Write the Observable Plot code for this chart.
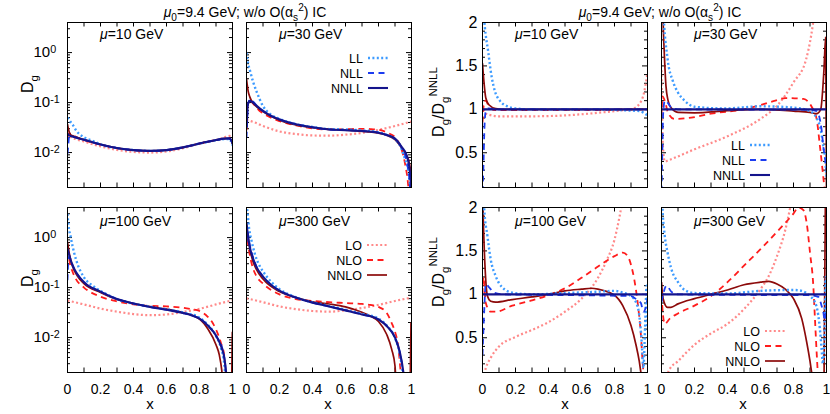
<!DOCTYPE html>
<html><head><meta charset="utf-8">
<script src="https://cdn.jsdelivr.net/npm/d3@7"></script>
<script src="https://cdn.jsdelivr.net/npm/@observablehq/plot@0.6"></script>
<style>
body{margin:0;background:#fff;}
#root{position:relative;width:830px;height:414px;overflow:hidden;background:#fff}
#root svg{position:absolute;}
</style></head><body><div id="root"></div>
<script>
const FONT = '"Liberation Sans", Arial, Helvetica, sans-serif';

// ---------- axis ticks / labels ----------
const X_LABEL_TICKS = [0, 0.2, 0.4, 0.6, 0.8, 1];
const X_LABELS = ["0", "0.2", "0.4", "0.6", "0.8", "1"];
const X_MINOR = [0.1, 0.2, 0.3, 0.4, 0.5, 0.6, 0.7, 0.8, 0.9];
const LOG_MAJOR = [1, 0.1, 0.01];
const LOG_LABELS = ["10^0", "10^-1", "10^-2"];
const LOG_MINOR = [0.002,0.003,0.004,0.005,0.006,0.007,0.008,0.009,0.02,0.03,0.04,0.05,0.06,0.07,0.08,0.09,0.2,0.3,0.4,0.5,0.6,0.7,0.8,0.9,2,3,4];
const RATIO_MAJOR = [0.5, 1, 1.5, 2];
const RATIO_LABELS = ["0.5", "1", "1.5", "2"];
const RATIO_MINOR = [0.2,0.3,0.4,0.6,0.7,0.8,0.9,1.1,1.2,1.3,1.4,1.6,1.7,1.8,1.9];
const MU = ["10", "30", "100", "300"];

// ---------- D_g, mu = 10 GeV ----------
const dg10_LO   = [[0,0.025],[0.02,0.0205],[0.05,0.0186],[0.1,0.0166],[0.2,0.0133],[0.3,0.0113],[0.4,0.0103],[0.5,0.01],[0.6,0.0105],[0.7,0.0122],[0.8,0.0152],[0.9,0.0178],[0.95,0.02],[0.98,0.0215],[1,0.021]];
const dg10_NLO  = [[0,0.02],[0.01,0.024],[0.02,0.0235],[0.04,0.0215],[0.08,0.0187],[0.1,0.0178],[0.2,0.0144],[0.3,0.0122],[0.4,0.0111],[0.5,0.0107],[0.6,0.0111],[0.7,0.0126],[0.8,0.0151],[0.9,0.0178],[0.95,0.019],[0.98,0.0192],[1,0.0152]];
const dg10_NNLO = [[0,0.037],[0.005,0.03],[0.01,0.026],[0.02,0.0225],[0.04,0.0212],[0.08,0.019],[0.1,0.0181],[0.2,0.0146],[0.3,0.0123],[0.4,0.0112],[0.5,0.0108],[0.6,0.0112],[0.7,0.0127],[0.8,0.0152],[0.9,0.0178],[0.95,0.019],[0.98,0.0192],[0.995,0.017],[1,0.015]];
const dg10_LL   = [[0,0.05],[0.014,0.043],[0.034,0.035],[0.055,0.027],[0.075,0.023],[0.105,0.0198],[0.156,0.017],[0.2,0.0146],[0.3,0.0123],[0.4,0.0112],[0.5,0.0108],[0.6,0.0112],[0.7,0.0127],[0.8,0.0151],[0.9,0.0176],[0.95,0.0186],[0.98,0.0187],[1,0.014]];
const dg10_NLL  = [[0,0.0095],[0.004,0.013],[0.01,0.021],[0.02,0.0215],[0.05,0.0201],[0.1,0.018],[0.2,0.0145],[0.3,0.0123],[0.4,0.0112],[0.5,0.0108],[0.6,0.0112],[0.7,0.0127],[0.8,0.0152],[0.9,0.0178],[0.95,0.019],[0.98,0.0191],[0.995,0.0168],[1,0.0148]];
const dg10_NNLL = [[0,0.024],[0.01,0.022],[0.03,0.021],[0.05,0.02],[0.1,0.018],[0.2,0.0145],[0.3,0.0123],[0.4,0.0112],[0.5,0.0108],[0.6,0.0112],[0.7,0.0127],[0.8,0.0152],[0.9,0.0178],[0.95,0.019],[0.98,0.0192],[0.995,0.017],[1,0.015]];

// ---------- D_g, mu = 30 GeV ----------
const dg30_LO   = [[0,0.045],[0.05,0.04],[0.1,0.034],[0.2,0.0265],[0.3,0.0235],[0.4,0.022],[0.5,0.0218],[0.6,0.0228],[0.7,0.0248],[0.8,0.0285],[0.9,0.034],[1,0.042]];
const dg30_NLO  = [[0,0.028],[0.005,0.08],[0.01,0.1],[0.02,0.11],[0.04,0.095],[0.08,0.068],[0.1,0.061],[0.18,0.045],[0.3,0.035],[0.5,0.029],[0.7,0.0298],[0.75,0.0295],[0.8,0.0285],[0.86,0.0245],[0.91,0.0185],[0.94,0.0115],[0.96,0.0062],[0.98,0.0022],[0.99,0.0008]];
const dg30_NNLO = [[0,0.3],[0.005,0.22],[0.01,0.17],[0.02,0.13],[0.03,0.11],[0.05,0.09],[0.1,0.066],[0.2,0.0445],[0.4,0.0315],[0.6,0.028],[0.8,0.0245],[0.9,0.0182],[0.94,0.0124],[0.97,0.0088],[0.985,0.0065],[0.995,0.004],[1,0.001]];
const dg30_LL   = [[0,1.0],[0.005,0.75],[0.01,0.6],[0.02,0.45],[0.04,0.26],[0.06,0.17],[0.1,0.085],[0.14,0.06],[0.2,0.047],[0.3,0.037],[0.4,0.0325],[0.5,0.0295],[0.6,0.029],[0.7,0.0278],[0.8,0.0255],[0.85,0.0225],[0.9,0.0186],[0.94,0.0118],[0.96,0.0075],[0.98,0.0045],[0.99,0.0025],[0.995,0.0015]];
const dg30_NLL  = [[0,0.02],[0.004,0.04],[0.008,0.085],[0.02,0.115],[0.04,0.105],[0.06,0.088],[0.1,0.068],[0.15,0.054],[0.2,0.046],[0.3,0.037],[0.4,0.032],[0.5,0.029],[0.6,0.028],[0.7,0.027],[0.8,0.025],[0.85,0.0224],[0.9,0.0188],[0.94,0.0125],[0.97,0.0068],[0.98,0.0045],[0.99,0.0022],[0.995,0.001]];
const dg30_NNLL = [[0,0.031],[0.004,0.06],[0.008,0.09],[0.02,0.108],[0.04,0.1],[0.06,0.087],[0.1,0.068],[0.15,0.054],[0.2,0.046],[0.3,0.037],[0.4,0.032],[0.5,0.029],[0.6,0.028],[0.7,0.027],[0.8,0.025],[0.85,0.0225],[0.9,0.019],[0.94,0.013],[0.97,0.0089],[0.99,0.0042],[0.997,0.0018],[1,0.0005]];

// ---------- D_g, mu = 100 GeV ----------
const dg100_LO   = [[0,0.055],[0.1,0.046],[0.2,0.038],[0.3,0.033],[0.4,0.0295],[0.5,0.028],[0.6,0.029],[0.7,0.0325],[0.8,0.0375],[0.9,0.046],[1,0.056]];
const dg100_NLO  = [[0,0.6],[0.005,0.48],[0.015,0.3],[0.03,0.21],[0.05,0.15],[0.1,0.1],[0.2,0.066],[0.3,0.053],[0.4,0.046],[0.5,0.043],[0.6,0.042],[0.7,0.0395],[0.75,0.037],[0.8,0.034],[0.85,0.026],[0.88,0.0195],[0.9,0.0145],[0.93,0.0078],[0.95,0.0043],[0.965,0.001]];
const dg100_NNLO = [[0,0.82],[0.01,0.5],[0.03,0.27],[0.06,0.17],[0.1,0.12],[0.2,0.08],[0.3,0.058],[0.4,0.048],[0.5,0.0415],[0.6,0.037],[0.7,0.0315],[0.8,0.0235],[0.85,0.015],[0.9,0.0072],[0.92,0.0045],[0.935,0.0022],[0.945,0.001],[0.993,0.001],[0.999,0.013]];
const dg100_LL   = [[0,3.0],[0.005,1.9],[0.02,1.0],[0.04,0.5],[0.06,0.3],[0.1,0.16],[0.15,0.11],[0.2,0.086],[0.3,0.059],[0.5,0.0415],[0.7,0.032],[0.8,0.025],[0.85,0.018],[0.9,0.0108],[0.93,0.0062],[0.95,0.003],[0.96,0.0012]];
const dg100_NLL  = [[0,0.14],[0.004,0.3],[0.01,0.42],[0.02,0.36],[0.03,0.29],[0.06,0.185],[0.1,0.128],[0.2,0.083],[0.3,0.059],[0.4,0.048],[0.5,0.041],[0.6,0.036],[0.7,0.031],[0.75,0.028],[0.8,0.024],[0.85,0.0175],[0.9,0.0108],[0.94,0.0058],[0.96,0.0019],[0.965,0.001]];
const dg100_NNLL = [[0,0.6],[0.01,0.45],[0.03,0.28],[0.06,0.185],[0.1,0.128],[0.2,0.083],[0.3,0.059],[0.4,0.048],[0.5,0.041],[0.6,0.036],[0.7,0.031],[0.75,0.028],[0.8,0.024],[0.85,0.0175],[0.9,0.011],[0.93,0.0068],[0.95,0.004],[0.96,0.0022],[0.97,0.0008]];

// ---------- D_g, mu = 300 GeV ----------
const dg300_LO   = [[0,0.061],[0.1,0.051],[0.2,0.042],[0.3,0.037],[0.4,0.034],[0.5,0.033],[0.6,0.035],[0.7,0.039],[0.8,0.045],[0.9,0.054],[1,0.063]];
const dg300_NLO  = [[0,1.5],[0.005,1.0],[0.02,0.45],[0.04,0.24],[0.06,0.17],[0.1,0.12],[0.2,0.073],[0.3,0.059],[0.4,0.054],[0.5,0.051],[0.6,0.049],[0.7,0.047],[0.75,0.045],[0.8,0.041],[0.85,0.031],[0.88,0.0195],[0.9,0.013],[0.92,0.0065],[0.935,0.002],[0.945,0.001]];
const dg300_NNLO = [[0,1.8],[0.005,1.3],[0.02,0.6],[0.04,0.33],[0.06,0.23],[0.1,0.148],[0.2,0.083],[0.3,0.063],[0.4,0.052],[0.5,0.047],[0.6,0.041],[0.7,0.032],[0.75,0.027],[0.8,0.021],[0.85,0.0115],[0.88,0.0058],[0.9,0.0027],[0.91,0.001],[0.99,0.001],[0.997,0.02]];
const dg300_LL   = [[0,4.5],[0.005,3.5],[0.015,1.6],[0.03,0.88],[0.05,0.48],[0.08,0.27],[0.1,0.21],[0.15,0.13],[0.2,0.093],[0.3,0.064],[0.5,0.043],[0.7,0.03],[0.8,0.024],[0.85,0.0175],[0.9,0.0098],[0.93,0.0045],[0.95,0.0016],[0.96,0.0008]];
const dg300_NLL  = [[0,0.8],[0.005,1.3],[0.02,0.7],[0.04,0.4],[0.06,0.265],[0.1,0.166],[0.15,0.113],[0.2,0.087],[0.3,0.063],[0.4,0.05],[0.5,0.042],[0.6,0.035],[0.7,0.029],[0.8,0.023],[0.85,0.017],[0.9,0.0099],[0.93,0.0049],[0.95,0.002],[0.96,0.001]];
const dg300_NNLL = [[0,2.0],[0.005,1.4],[0.02,0.65],[0.04,0.38],[0.06,0.26],[0.1,0.166],[0.15,0.113],[0.2,0.087],[0.3,0.063],[0.4,0.05],[0.5,0.042],[0.6,0.035],[0.7,0.029],[0.8,0.023],[0.85,0.017],[0.9,0.01],[0.93,0.005],[0.95,0.0021],[0.96,0.001]];

// ---------- D_g / D_g^NNLL, mu = 10 GeV ----------
const rt10_LO   = [[0,1.05],[0.02,0.95],[0.1,0.92],[0.3,0.92],[0.5,0.93],[0.7,0.96],[0.85,0.99],[0.9,1.0],[0.95,1.06],[0.98,1.2],[1,1.42]];
const rt10_NLO  = [[0,0.85],[0.01,1.08],[0.02,1.1],[0.04,1.03],[0.08,0.99],[0.3,0.99],[0.7,0.99],[0.9,1.0],[1,1.0]];
const rt10_NNLO = [[0,1.53],[0.01,1.29],[0.02,1.13],[0.04,1.05],[0.08,1.01],[0.15,1.0],[1,1.0]];
const rt10_LL   = [[0,2.3],[0.014,1.95],[0.034,1.67],[0.055,1.38],[0.075,1.21],[0.105,1.1],[0.156,1.03],[0.2,1.01],[0.3,1.0],[0.5,1.0],[0.7,1.0],[0.85,0.99],[0.95,0.98],[1,0.93]];
const rt10_NLL  = [[0,0.05],[0.005,0.3],[0.012,0.8],[0.02,0.98],[0.035,1.01],[0.1,1.0],[1,1.0]];
const rt10_NNLL = [[0,1],[1,1]];

// ---------- D_g / D_g^NNLL, mu = 30 GeV ----------
const rt30_LO   = [[0,1.45],[0.008,0.6],[0.02,0.4],[0.05,0.42],[0.2,0.54],[0.4,0.69],[0.6,0.89],[0.7,1.04],[0.8,1.31],[0.877,1.58],[0.907,1.85],[0.93,2.15]];
const rt30_NLO  = [[0,0.9],[0.006,1.15],[0.02,1.1],[0.04,0.96],[0.078,0.89],[0.18,0.905],[0.3,0.95],[0.5,1.0],[0.69,1.1],[0.75,1.13],[0.86,1.12],[0.91,1.03],[0.94,0.89],[0.96,0.58],[0.98,0.23],[0.99,0.05]];
const rt30_NNLO = [[0,3],[0.01,2.0],[0.018,1.6],[0.027,1.27],[0.04,1.1],[0.057,1.02],[0.1,0.965],[0.2,0.96],[0.4,0.985],[0.6,1.0],[0.8,0.98],[0.9,0.965],[0.94,0.95],[0.965,1.0],[0.985,1.47],[0.995,1.83],[1,0.05]];
const rt30_LL   = [[0,2.8],[0.01,2.2],[0.037,1.58],[0.068,1.33],[0.098,1.2],[0.14,1.1],[0.2,1.03],[0.385,1.01],[0.6,1.035],[0.8,1.02],[0.9,0.98],[0.96,0.81],[0.98,0.58],[0.994,0.39],[1,0.2]];
const rt30_NLL  = [[0,0.05],[0.005,0.5],[0.01,0.95],[0.02,1.1],[0.035,1.08],[0.06,1.02],[0.1,1.0],[0.9,0.995],[0.94,0.98],[0.97,0.77],[0.98,0.58],[0.99,0.45],[1,0.3]];
const rt30_NNLL = [[0,1],[1,1]];

// ---------- D_g / D_g^NNLL, mu = 100 GeV ----------
const rt100_LO   = [[0.01,0.08],[0.02,0.15],[0.05,0.27],[0.1,0.4],[0.2,0.51],[0.3,0.59],[0.4,0.68],[0.5,0.8],[0.6,0.95],[0.7,1.19],[0.75,1.38],[0.8,1.63],[0.83,1.89],[0.85,2.1]];
const rt100_NLO  = [[0,1.0],[0.005,1.2],[0.02,0.9],[0.05,0.8],[0.08,0.8],[0.18,0.87],[0.3,0.93],[0.4,0.99],[0.5,1.07],[0.6,1.19],[0.7,1.32],[0.8,1.44],[0.85,1.48],[0.88,1.44],[0.9,1.34],[0.92,1.17],[0.94,0.91],[0.96,0.53],[0.97,0.23],[0.98,0.0]];
const rt100_NNLO = [[0,2.2],[0.004,1.91],[0.016,1.29],[0.03,0.98],[0.05,0.92],[0.08,0.91],[0.18,0.94],[0.3,0.97],[0.4,1.0],[0.5,1.04],[0.6,1.06],[0.66,1.07],[0.7,1.06],[0.8,0.99],[0.85,0.87],[0.9,0.64],[0.93,0.42],[0.95,0.23],[0.96,0.1],[0.97,0.0]];
const rt100_LL   = [[0,2.6],[0.01,2.0],[0.03,1.67],[0.05,1.4],[0.08,1.21],[0.12,1.08],[0.18,1.02],[0.3,1.0],[0.5,1.015],[0.7,1.03],[0.8,1.04],[0.85,1.02],[0.9,0.98],[0.93,0.91],[0.95,0.76],[0.965,0.45],[0.975,0.15],[0.985,0.6],[0.995,1.1],[1,0.6]];
const rt100_NLL  = [[0,0.3],[0.008,0.7],[0.02,1.12],[0.04,1.08],[0.07,1.02],[0.12,1.0],[0.3,0.995],[0.9,0.98],[0.94,0.93],[0.96,0.9],[0.975,0.8],[0.99,0.85],[1,0.95]];
const rt100_NNLL = [[0,1],[1,1]];

// ---------- D_g / D_g^NNLL, mu = 300 GeV ----------
const rt300_LO   = [[0.02,0.0],[0.047,0.13],[0.1,0.23],[0.2,0.42],[0.3,0.55],[0.4,0.66],[0.5,0.83],[0.6,1.06],[0.65,1.21],[0.7,1.44],[0.75,1.74],[0.78,2.0],[0.8,2.2]];
const rt300_NLO  = [[0,1.0],[0.005,0.85],[0.02,0.66],[0.05,0.72],[0.1,0.78],[0.2,0.87],[0.3,0.98],[0.4,1.14],[0.5,1.33],[0.6,1.52],[0.7,1.72],[0.8,1.93],[0.83,2.0],[0.86,1.97],[0.88,1.82],[0.9,1.48],[0.92,1.1],[0.93,0.72],[0.94,0.34],[0.95,0.0]];
const rt300_NNLO = [[0,1.14],[0.006,1.0],[0.016,0.91],[0.037,0.85],[0.057,0.85],[0.1,0.89],[0.2,0.95],[0.3,1.0],[0.4,1.05],[0.5,1.11],[0.6,1.14],[0.65,1.15],[0.7,1.12],[0.75,1.06],[0.8,0.95],[0.85,0.72],[0.88,0.45],[0.9,0.23],[0.91,0.1],[0.92,0.0],[0.985,0.0],[0.995,2.5]];
const rt300_LL   = [[0,3.0],[0.006,2.0],[0.016,1.74],[0.037,1.48],[0.057,1.31],[0.1,1.14],[0.14,1.05],[0.2,1.015],[0.4,1.01],[0.6,1.04],[0.8,1.05],[0.85,1.04],[0.9,0.98],[0.93,0.91],[0.95,0.76],[0.96,0.6],[0.97,0.38],[0.978,0.2],[0.987,0.5],[0.995,1.2],[1,0.8]];
const rt300_NLL  = [[0,0.91],[0.01,1.0],[0.03,1.1],[0.06,1.03],[0.1,1.0],[0.3,0.995],[0.9,0.99],[0.95,0.97],[0.97,0.87],[0.98,0.8],[0.99,0.7],[1,0.9]];
const rt300_NNLL = [[0,1],[1,1]];

// ---------- styles ----------
const ORDER = ["LO", "NLO", "NNLO", "LL", "NLL", "NNLL"];
const STYLE = {
  LO:   {stroke: "#ff8a8a", dash: "2,2.4", width: 2.2},
  NLO:  {stroke: "#ff1c1c", dash: "6,4.5", width: 1.8},
  NNLO: {stroke: "#8c0a0a", dash: null,    width: 1.7},
  LL:   {stroke: "#3d9bff", dash: "2,2.4", width: 2.4},
  NLL:  {stroke: "#1c3cf0", dash: "6,4.5", width: 1.8},
  NNLL: {stroke: "#14148c", dash: null,    width: 2.1}
};

const PANELS = [
  {left: 67,  top: 22,  log: true,  mu: 0, ylab: true,  xlab: false, s: {LO:dg10_LO,NLO:dg10_NLO,NNLO:dg10_NNLO,LL:dg10_LL,NLL:dg10_NLL,NNLL:dg10_NNLL}},
  {left: 246, top: 22,  log: true,  mu: 1, ylab: false, xlab: false, s: {LO:dg30_LO,NLO:dg30_NLO,NNLO:dg30_NNLO,LL:dg30_LL,NLL:dg30_NLL,NNLL:dg30_NNLL}},
  {left: 67,  top: 207, log: true,  mu: 2, ylab: true,  xlab: true,  s: {LO:dg100_LO,NLO:dg100_NLO,NNLO:dg100_NNLO,LL:dg100_LL,NLL:dg100_NLL,NNLL:dg100_NNLL}},
  {left: 246, top: 207, log: true,  mu: 3, ylab: false, xlab: true,  s: {LO:dg300_LO,NLO:dg300_NLO,NNLO:dg300_NNLO,LL:dg300_LL,NLL:dg300_NLL,NNLL:dg300_NNLL}},
  {left: 482, top: 22,  log: false, mu: 0, ylab: true,  xlab: false, s: {LO:rt10_LO,NLO:rt10_NLO,NNLO:rt10_NNLO,LL:rt10_LL,NLL:rt10_NLL,NNLL:rt10_NNLL}},
  {left: 661, top: 22,  log: false, mu: 1, ylab: false, xlab: false, s: {LO:rt30_LO,NLO:rt30_NLO,NNLO:rt30_NNLO,LL:rt30_LL,NLL:rt30_NLL,NNLL:rt30_NNLL}},
  {left: 482, top: 207, log: false, mu: 2, ylab: true,  xlab: true,  s: {LO:rt100_LO,NLO:rt100_NLO,NNLO:rt100_NNLO,LL:rt100_LL,NLL:rt100_NLL,NNLL:rt100_NNLL}},
  {left: 661, top: 207, log: false, mu: 3, ylab: false, xlab: true,  s: {LO:rt300_LO,NLO:rt300_NLO,NNLO:rt300_NNLO,LL:rt300_LL,NLL:rt300_NLL,NNLL:rt300_NNLL}}
];

const W = 165, H = 165, ML = 45, MR = 10, MT = 10, MB = 45;
const root = document.getElementById("root");

function drawPanel(p) {
  const yMaj = p.log ? LOG_MAJOR : RATIO_MAJOR;
  const yMin = p.log ? LOG_MINOR : RATIO_MINOR;
  const marks = [
    Plot.tickY(yMaj, {y: d => d, insetRight: W - 5, stroke: "#000"}),
    Plot.tickY(yMaj, {y: d => d, insetLeft: W - 5, stroke: "#000"}),
    Plot.tickY(yMin, {y: d => d, insetRight: W - 3, stroke: "#000"}),
    Plot.tickY(yMin, {y: d => d, insetLeft: W - 3, stroke: "#000"}),
    Plot.tickX(X_MINOR, {x: d => d, insetTop: H - 4.5, stroke: "#000"}),
    Plot.tickX(X_MINOR, {x: d => d, insetBottom: H - 4.5, stroke: "#000"})
  ];
  for (const k of ORDER) {
    const st = STYLE[k];
    const o = {x: d => d[0], y: d => d[1], curve: "monotone-x", clip: true,
               stroke: st.stroke, strokeWidth: st.width, strokeLinecap: "butt"};
    if (st.dash) o.strokeDasharray = st.dash;
    marks.push(Plot.line(p.s[k], o));
  }
  marks.push(Plot.frame({stroke: "#000", strokeWidth: 1}));
  if (p.ylab) {
    if (p.log) {
      const lab = new Map(LOG_MAJOR.map((v, i) => [v, LOG_LABELS[i]]));
      marks.push(Plot.axisY({ticks: LOG_MAJOR, tickSize: 0, tickPadding: 34, textAnchor: "start",
        tickFormat: d => lab.get(d), fontSize: 15, label: null}));
    } else {
      const lab = new Map(RATIO_MAJOR.map((v, i) => [v, RATIO_LABELS[i]]));
      marks.push(Plot.axisY({ticks: RATIO_MAJOR, tickSize: 0, tickPadding: 5,
        tickFormat: d => lab.get(d), fontSize: 16, label: null}));
    }
  }
  if (p.xlab) {
    const lab = new Map(X_LABEL_TICKS.map((v, i) => [v, X_LABELS[i]]));
    marks.push(Plot.axisX({ticks: X_LABEL_TICKS, tickSize: 0, tickPadding: 12,
      tickFormat: d => lab.get(d), fontSize: 14, label: null}));
  }
  const svg = Plot.plot({
    width: W + ML + MR, height: H + MT + MB,
    marginLeft: ML, marginRight: MR, marginTop: MT, marginBottom: MB,
    x: {domain: [0, 1], axis: p.xlab ? undefined : null},
    y: p.log ? {type: "log", domain: [0.002, 4], axis: p.ylab ? undefined : null}
             : {type: "linear", domain: [0.1, 2], axis: p.ylab ? undefined : null},
    style: {background: "transparent", overflow: "visible", fontFamily: FONT, color: "#000"},
    marks
  });
  svg.style.left = (p.left - ML) + "px";
  svg.style.top = (p.top - MT) + "px";
  // superscripts in log tick labels
  svg.querySelectorAll("text").forEach(t => {
    const s = t.textContent;
    if (s.includes("^")) {
      const [base, exp] = s.split("^");
      t.textContent = "";
      t.setAttribute("text-anchor", "start");
      const NS = "http://www.w3.org/2000/svg";
      const a = document.createElementNS(NS, "tspan"); a.textContent = base; t.appendChild(a);
      const b = document.createElementNS(NS, "tspan"); b.textContent = exp;
      b.setAttribute("dy", "-0.45em"); b.setAttribute("font-size", "0.72em"); t.appendChild(b);
    }
  });
  root.appendChild(svg);
}
PANELS.forEach(drawPanel);

// ---------- overlay text ----------
const ov = d3.select(root).append("svg").attr("width", 830).attr("height", 414)
  .style("left", "0px").style("top", "0px").style("pointer-events", "none")
  .attr("font-family", FONT).attr("fill", "#000");

function rich(x, y, parts, {size = 14, anchor = "start", rotate = 0} = {}) {
  const t = ov.append("text").attr("x", x).attr("y", y).attr("font-size", size).attr("text-anchor", anchor);
  if (rotate) t.attr("transform", `rotate(${rotate},${x},${y})`);
  let shift = 0;
  for (const p of parts) {
    const target = p.sub ? size * 0.3 : p.sup ? -size * 0.42 : 0;
    const ts = t.append("tspan").text(p.t).attr("dy", target - shift);
    if (p.sub || p.sup) ts.attr("font-size", size * 0.72);
    if (p.i) ts.attr("font-style", "italic");
    shift = target;
  }
  return t;
}

const TITLE = [{t: "μ", i: 1}, {t: "0", sub: 1}, {t: "=9.4 GeV; w/o O(α"}, {t: "s", sub: 1}, {t: "2", sup: 1}, {t: ") IC"}];
rich(245, 17, TITLE, {size: 14, anchor: "middle"});
rich(660, 17, TITLE, {size: 14, anchor: "middle"});

PANELS.forEach(p => {
  rich(p.left + 33, p.top + (p.top < 100 ? 17 : 19), [{t: "μ", i: 1}, {t: "=" + MU[p.mu] + " GeV"}], {size: 14});
});

rich(33, 84, [{t: "D"}, {t: "g", sub: 1}], {size: 16, anchor: "middle", rotate: -90});
rich(33, 278, [{t: "D"}, {t: "g", sub: 1}], {size: 16, anchor: "middle", rotate: -90});
const RLAB = [{t: "D"}, {t: "g", sub: 1}, {t: "/D"}, {t: "g", sub: 1}, {t: "NNLL", sup: 1}];
rich(444, 102, RLAB, {size: 16, anchor: "middle", rotate: -90});
rich(444, 272, RLAB, {size: 16, anchor: "middle", rotate: -90});

[150, 328, 565, 743].forEach(x => rich(x, 409, [{t: "x"}], {size: 15, anchor: "middle"}));

function legend(xr, y0, keys) {
  keys.forEach((k, i) => {
    const y = y0 + i * 15;
    ov.append("text").attr("x", xr).attr("y", y + 4.5).attr("font-size", 12.5)
      .attr("text-anchor", "end").text(k);
    const st = STYLE[k];
    const l = ov.append("line").attr("x1", xr + 5).attr("x2", xr + 25).attr("y1", y).attr("y2", y)
      .attr("stroke", st.stroke).attr("stroke-width", st.width);
    if (st.dash) l.attr("stroke-dasharray", st.dash);
  });
}
legend(363, 58, ["LL", "NLL", "NNLL"]);
legend(362, 245, ["LO", "NLO", "NNLO"]);
legend(745, 145, ["LL", "NLL", "NNLL"]);
legend(760, 331, ["LO", "NLO", "NNLO"]);
</script></body></html>
